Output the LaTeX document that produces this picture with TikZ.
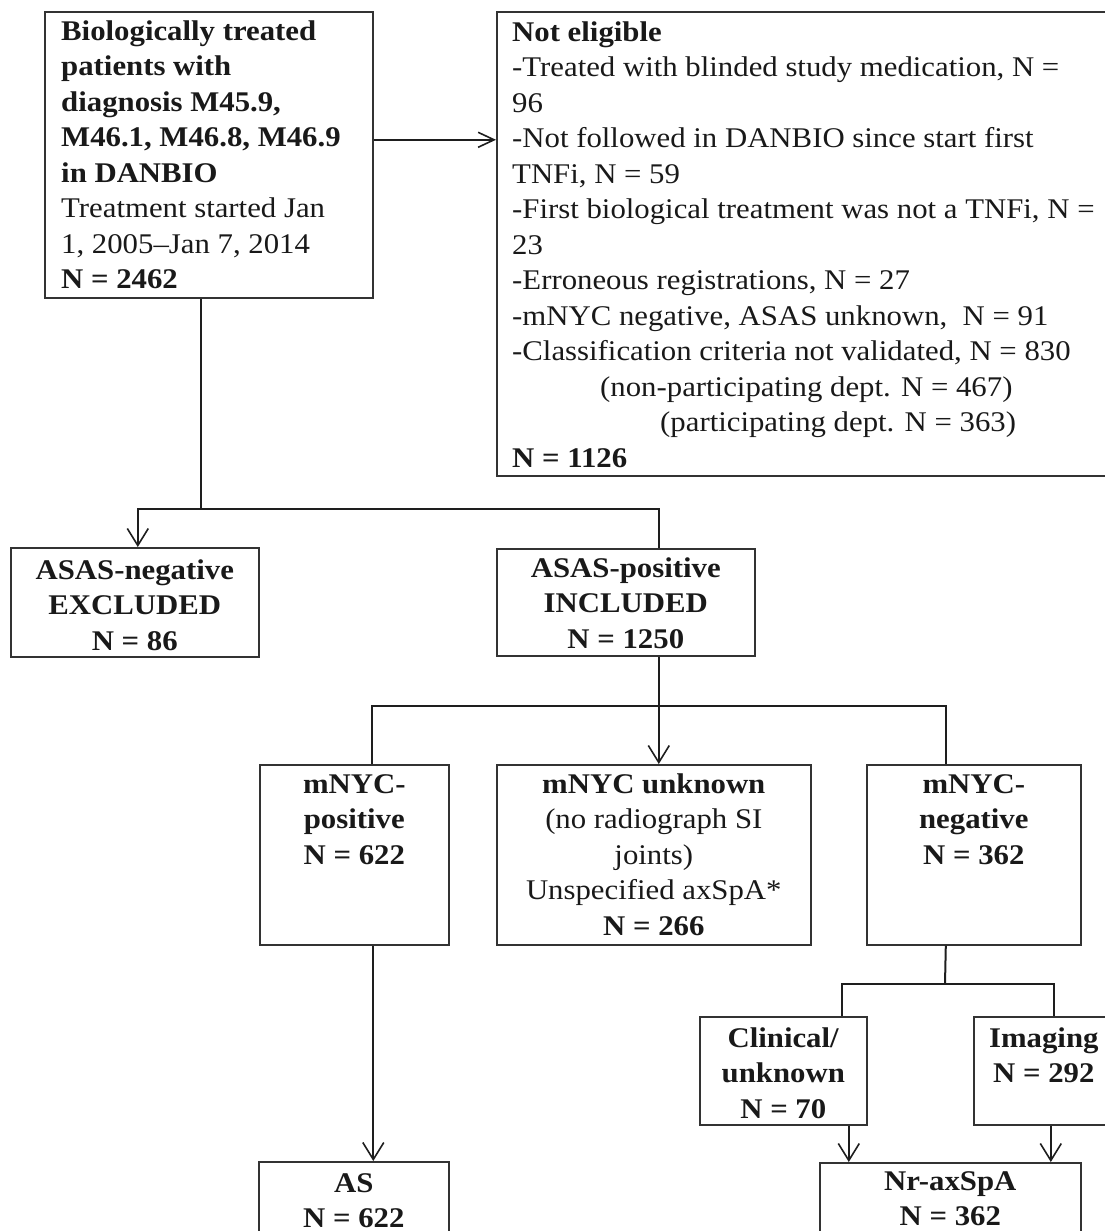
\documentclass[tikz,border=0pt]{standalone}
\usepackage{fontspec}
\setmainfont{Liberation Serif}[FakeStretch=1.08]
\usetikzlibrary{arrows.meta,calc}
\newcommand\fs{\fontsize{28.5}{35.5}\selectfont}
\definecolor{boxgray}{HTML}{333333}
\definecolor{linegray}{HTML}{1E1E1E}
\begin{document}
\begin{tikzpicture}[x=1pt,y=-1pt,
  box/.style={draw=boxgray,line width=1.6pt,inner sep=0pt,anchor=north west},
  txt/.style={inner sep=0pt,font=\fs,text=black!90},
  txl/.style={txt,align=left,anchor=north west},
  txc/.style={txt,align=center,anchor=north},
  conn/.style={draw=linegray,line width=2pt},
  arr/.style={conn,-{Straight Barb[length=17pt,width=21pt,line width=1.6pt]}},
  sidearr/.style={conn,-{Straight Barb[length=16pt,width=15pt,line width=1.6pt]}}]
\useasboundingbox (0,0) rectangle (1104,1231);
% boxes
\node[box,minimum width=328pt,minimum height=286pt] (start) at (44,11) {};
\node[box,minimum width=620pt,minimum height=464pt] (notel) at (496,11) {};
\node[box,minimum width=248pt,minimum height=109pt] (asneg) at (10,547) {};
\node[box,minimum width=258pt,minimum height=107pt] (aspos) at (496,548) {};
\node[box,minimum width=189pt,minimum height=180pt] (mpos) at (259,764) {};
\node[box,minimum width=314pt,minimum height=180pt] (unk) at (496,764) {};
\node[box,minimum width=214pt,minimum height=180pt] (mneg) at (866,764) {};
\node[box,minimum width=190pt,minimum height=100pt] (as) at (258,1161) {};
\node[box,minimum width=167pt,minimum height=108pt] (clin) at (699,1016) {};
\node[box,minimum width=140pt,minimum height=108pt] (img) at (973,1016) {};
\node[box,minimum width=261pt,minimum height=100pt] (nr) at (819,1162) {};
% texts
\node[txl] (startT) at ($(start.north west)+(17,4)$) {%
\strut\textbf{Biologically treated}\\
\strut\textbf{patients with}\\
\strut\textbf{diagnosis M45.9,}\\
\strut\textbf{M46.1, M46.8, M46.9}\\
\strut\textbf{in DANBIO}\\
\strut Treatment started Jan\\
\strut 1, 2005–Jan 7, 2014\\
\strut\textbf{N = 2462}};
\node[txl] (notelT) at ($(notel.north west)+(16,5)$) {%
\strut\textbf{Not eligible}\\
\strut -Treated with blinded study medication, N =\\
\strut 96\\
\strut -Not followed in DANBIO since start first\\
\strut TNFi, N = 59\\
\strut -First biological treatment was not a TNFi, N =\\
\strut 23\\
\strut -Erroneous registrations, N = 27\\
\strut -mNYC negative, ASAS unknown,\ \ N = 91\\
\strut -Classification criteria not validated, N = 830\\
\strut\hspace*{88pt}(non-participating dept. N = 467)\\
\strut\hspace*{148pt}(participating dept. N = 363)\\
\strut\textbf{N = 1126}};
\node[txc] (asnegT) at ($(asneg.north)+(0,7)$) {%
\strut\textbf{ASAS-negative}\\ \strut\textbf{EXCLUDED}\\ \strut\textbf{N = 86}};
\node[txc] (asposT) at ($(aspos.north)+(0,4)$) {%
\strut\textbf{ASAS-positive}\\ \strut\textbf{INCLUDED}\\ \strut\textbf{N = 1250}};
\node[txc] (mposT) at ($(mpos.north)+(0,4)$) {%
\strut\textbf{mNYC-}\\ \strut\textbf{positive}\\ \strut\textbf{N = 622}};
\node[txc] (unkT) at ($(unk.north)+(0,4)$) {%
\strut\textbf{mNYC unknown}\\ \strut(no radiograph SI\\ \strut joints)\\ \strut Unspecified axSpA*\\ \strut\textbf{N = 266}};
\node[txc] (mnegT) at ($(mneg.north)+(0,4)$) {%
\strut\textbf{mNYC-}\\ \strut\textbf{negative}\\ \strut\textbf{N = 362}};
\node[txc] (asT) at ($(as.north)+(0,6)$) {%
\strut\textbf{AS}\\ \strut\textbf{N = 622}};
\node[txc] (clinT) at ($(clin.north)+(0,6)$) {%
\strut\textbf{Clinical/}\\ \strut\textbf{unknown}\\ \strut\textbf{N = 70}};
\node[txc] (imgT) at ($(img.north)+(0,6)$) {%
\strut\textbf{Imaging}\\ \strut\textbf{N = 292}};
\node[txc] (nrT) at ($(nr.north)+(0,3)$) {%
\strut\textbf{Nr-axSpA}\\ \strut\textbf{N = 362}};
% connectors
\coordinate (a1) at ([yshift=15pt]start.east);
\draw[sidearr] (a1) -- (a1 -| notel.west);
\coordinate (j1) at (201,509);
\draw[conn] (start.south -| j1) -- (j1);
\draw[arr] (j1) -| ([xshift=3pt]asneg.north);
\draw[conn] (j1) -| ([xshift=33pt]aspos.north);
\coordinate (j2) at (658,706);
\draw[arr] ([xshift=33pt]aspos.south) -- ([xshift=33pt]aspos.south |- unk.north);
\draw[conn] (j2) -| ([xshift=17.5pt]mpos.north);
\draw[conn] (j2) -| ([xshift=-28pt]mneg.north);
\draw[arr] ([xshift=19pt]mpos.south) -- ([xshift=19pt]mpos.south |- as.north);
\coordinate (j3) at (945,984);
\draw[conn] ([xshift=-28pt]mneg.south) -- (j3);
\draw[conn] (j3) -| ([xshift=58.5pt]clin.north);
\draw[conn] (j3) -| ([xshift=10pt]img.north);
\draw[arr] ([xshift=65.5pt]clin.south) -- ([xshift=65.5pt]clin.south |- nr.north);
\draw[arr] ([xshift=7pt]img.south) -- ([xshift=7pt]img.south |- nr.north);
\end{tikzpicture}
\end{document}
